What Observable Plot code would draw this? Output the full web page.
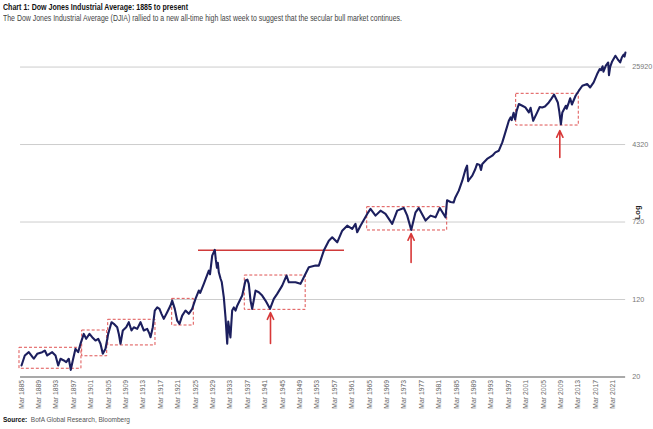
<!DOCTYPE html>
<html><head><meta charset="utf-8">
<script src="https://cdn.jsdelivr.net/npm/d3@7"></script>
<script src="https://cdn.jsdelivr.net/npm/@observablehq/plot@0.6"></script>
<style>
body{margin:0;background:#fff;width:653px;height:429px;position:relative;overflow:hidden;font-family:"Liberation Sans",Arial,sans-serif;}
.hd{position:absolute;left:3px;white-space:nowrap;transform-origin:0 0}
#title{top:1px;font-weight:bold;font-size:9.5px;color:#111}
#sub{top:13px;font-size:9px;color:#444}
#chart{position:absolute;left:0;top:30px}
#src{top:415px;font-size:7.5px;color:#555}
#src b{color:#111}
</style></head>
<body>
<div id="title" class="hd">Chart 1: Dow Jones Industrial Average: 1885 to present</div>
<div id="sub" class="hd">The Dow Jones Industrial Average (DJIA) rallied to a new all-time high last week to suggest that the secular bull market continues.</div>
<div id="chart"></div>
<div id="src" class="hd"><b>Source:</b>&nbsp; BofA Global Research, Bloomberg</div>
<script>
const years = [1885.17,1885.93,1886.85,1887.63,1888.0,1888.78,1889.93,1890.53,1891.08,1892.23,1892.99,1893.61,1894.14,1894.9,1895.45,1896.04,1896.5,1896.96,1897.58,1898.2,1898.73,1899.49,1900.04,1900.8,1901.42,1902.18,1902.8,1903.33,1903.86,1904.48,1905.1,1905.86,1906.39,1907.17,1907.54,1907.93,1908.46,1909.24,1909.84,1910.46,1910.99,1911.77,1912.53,1913.29,1914.07,1914.6,1914.83,1915.35,1915.81,1916.37,1916.89,1917.35,1917.88,1918.66,1919.42,1919.81,1920.41,1920.96,1921.49,1922.11,1922.87,1923.63,1924.41,1925.17,1925.93,1926.25,1927.08,1928.23,1928.5,1929.01,1929.6,1929.85,1930.1,1930.3,1930.53,1930.92,1931.2,1931.68,1932.07,1932.46,1932.7,1933.0,1933.2,1933.6,1933.98,1934.37,1934.76,1935.91,1936.66,1937.1,1937.42,1937.82,1938.2,1938.98,1939.72,1940.5,1941.26,1942.3,1943.17,1943.95,1945.1,1946.09,1946.62,1948.16,1949.31,1950.07,1951.22,1952.76,1953.52,1954.67,1955.82,1956.6,1957.75,1958.9,1960.04,1961.19,1961.95,1962.34,1963.1,1964.64,1965.4,1966.55,1967.7,1968.85,1970.39,1971.54,1973.06,1973.84,1974.76,1975.75,1976.5,1978.05,1979.2,1980.35,1981.33,1982.64,1983.0,1983.8,1984.5,1984.9,1985.7,1986.5,1987.2,1987.6,1987.85,1988.0,1988.8,1989.5,1989.9,1990.5,1990.8,1991.1,1992.2,1993.4,1994.1,1994.9,1995.7,1996.4,1997.2,1997.6,1997.85,1998.3,1998.65,1999.0,1999.5,2000.3,2001.0,2001.8,2002.2,2002.8,2003.72,2004.3,2004.87,2005.5,2006.39,2007.0,2007.6,2008.0,2008.46,2008.8,2009.17,2009.5,2010.3,2010.5,2011.0,2011.3,2011.7,2012.55,2013.3,2014.1,2015.2,2015.9,2016.7,2017.5,2018.1,2018.4,2018.75,2018.95,2019.5,2020.05,2020.22,2020.5,2020.95,2021.7,2022.2,2022.8,2023.2,2023.6,2023.8,2024.0];
const values = [26.1,32.9,35.5,32.1,30.5,34.2,35.5,36.9,32.9,35.5,32.9,26.1,30.5,29.3,28.2,30.5,23.6,29.3,38.4,35.5,43.1,54.2,48.4,54.2,50.2,46.5,48.4,43.1,34.2,38.4,54.2,71.0,68.4,63.2,54.2,43.1,58.6,63.2,71.0,58.6,63.2,60.9,71.0,58.6,60.9,54.2,50.2,63.2,93.0,100.3,96.7,86.2,76.7,89.4,104.3,117.1,96.7,73.8,68.4,82.8,93.0,86.2,96.7,121.8,147.6,140,172.3,234,215,331,378,300,250,280,225,195,180,126,79.5,43.1,72,58,50,93,100,93,104,131.5,186,190,172,117,96.7,147.6,142,131.5,117,96.7,121.8,136.7,165.6,208.7,178.7,178.7,172.3,200.7,252.8,263,263,372,468,506,450,590,662,614,689,568,662,868,975,835,937,868,689,937,996,835,600,901,996,744,835,803,996,803,1190,1145,1130,1271,1488,1874,2400,2650,1850,1900,2104,2455,2757,2700,2400,2757,3094,3338,3608,3748,4540,5718,7496,8090,7600,9000,7700,9400,11030,10600,10190,9083,10100,7496,9083,10300,10190,10400,11440,12500,13700,12600,11440,9300,6900,9083,10600,9900,11440,12600,10900,13350,15000,16830,17500,16180,18170,22060,24760,24100,26400,23300,26800,28800,21500,26000,29500,33670,31200,28840,32500,34500,33000,36330];

const yTicks = [20, 120, 720, 4320, 25920];
const tickYears = d3.range(1885, 2022, 4);

// consolidation boxes
const boxStart = [1884.71, 1899.12, 1905.1, 1919.81, 1936.5, 1964.64, 1998.89];
const boxEnd   = [1898.95, 1904.87, 1915.97, 1924.78, 1950.5, 1983.03, 2013.28];
const boxLow   = [24.2, 32.3, 41.5, 65.8, 94.5, 592, 6706];
const boxHigh  = [39.3, 58.6, 75.1, 121.8, 209, 1015, 13960];

// 1929 peak level line
const peakLevel = [375];
const peakSpan = [1925.86, 1959.42];

// arrows
const arrowYear = [1942.41, 1974.73, 2008.92];
const arrowTail = [43.4, 283, 3201];
const arrowTip  = [88.8, 552, 5975];

const data = years.map((y, i) => ({year: y, value: values[i]}));
const boxes = boxStart.map((s, i) => ({x1: s, x2: boxEnd[i], y1: boxLow[i], y2: boxHigh[i]}));
const arrows = arrowYear.map((x, i) => ({x, y1: arrowTail[i], y2: arrowTip[i]}));

const chart = Plot.plot({
  width: 653,
  height: 380,
  marginLeft: 21,
  marginRight: 40.4,
  marginTop: 17.8,
  marginBottom: 33.5,
  style: {fontFamily: '"Liberation Sans",Arial,sans-serif', fontSize: "7px", background: "white", overflow: "visible"},
  x: {domain: [1885.17, 2021.17], axis: null},
  y: {type: "log", domain: [20, 40000], axis: null},
  marks: [
    Plot.ruleY(yTicks.slice(1), {x1: 1884.95, x2: 2024.05, stroke: "#cdcdcd", strokeWidth: 1}),
    Plot.ruleY([yTicks[0]], {x1: 1884.95, x2: 2024.05, stroke: "#8c8c8c", strokeWidth: 1.6}),
    Plot.ruleY(peakLevel, {x1: peakSpan[0], x2: peakSpan[1], stroke: "#d03a3a", strokeWidth: 1.5}),
    Plot.rect(boxes, {x1: "x1", x2: "x2", y1: "y1", y2: "y2", fill: "none", stroke: "#df5252", strokeWidth: 1, strokeDasharray: "3,2"}),
    Plot.arrow(arrows, {x1: "x", x2: "x", y1: "y1", y2: "y2", stroke: "#d83838", strokeWidth: 1.6, headLength: 7, headAngle: 50}),
    Plot.line(data, {x: "year", y: "value", stroke: "#1c1f5e", strokeWidth: 2.1, strokeLinejoin: "round"}),
    Plot.axisX({ticks: tickYears.map(y => y + 0.17), tickFormat: d => "Mar " + Math.floor(d), tickRotate: -90, tickSize: 0, tickPadding: 3, label: null, fill: "#666", fontSize: 6.8}),
    Plot.text(yTicks, {x: 2025.6, y: d => d, text: d => String(d), textAnchor: "start", fill: "#777", fontSize: 7.2}),
    Plot.text(["Log"], {x: 2026.9, y: 900, text: d => d, rotate: -90, fontWeight: "bold", fontSize: 7.5, fill: "#222"})
  ]
});
document.getElementById("chart").appendChild(chart);

// fit header/footer text to the reference widths
const targets = {title: 185, sub: 399, src: 127};
for (const id in targets) {
  const el = document.getElementById(id);
  const w = el.getBoundingClientRect().width;
  if (w > 0) el.style.transform = `scaleX(${targets[id] / w})`;
}
</script>
</body></html>
